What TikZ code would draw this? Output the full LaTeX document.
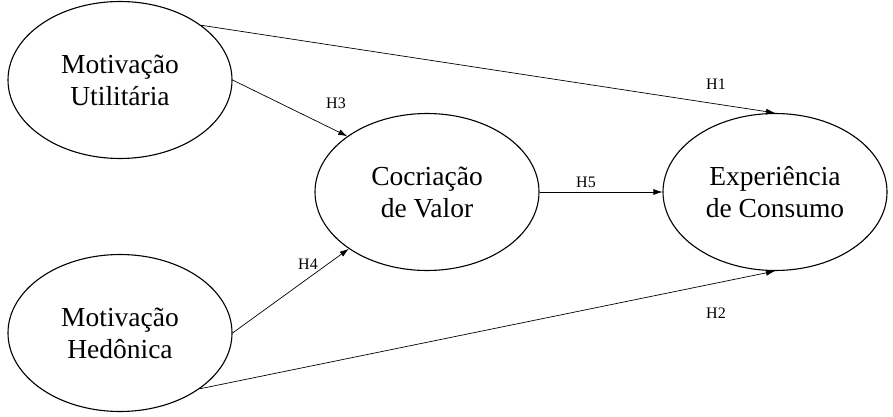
\documentclass[tikz,border=0pt]{standalone}
\usepackage{fontspec}
\setmainfont{Liberation Serif}
\usetikzlibrary{shapes.geometric, arrows.meta}

\tikzset{
  construct/.style={ellipse, draw, line width=1.1pt, minimum width=224pt,
    minimum height=157pt, align=center, font=\fontsize{27.5}{32}\selectfont},
  path/.style={draw, line width=0.7pt, -{Latex[length=9pt, width=6pt]}},
  hyp/.style={font=\fontsize{16}{18}\selectfont}
}

\begin{document}
\begin{tikzpicture}[x=1pt, y=-1pt]

    % Fix the page size
    \useasboundingbox (0, 0) rectangle (893, 417);

    % Draw constructs
    \node[construct] (mu) at (120, 80) {Motiva\c{c}\~ao\\Utilit\'aria};
    \node[construct] (mh) at (120, 333) {Motiva\c{c}\~ao\\Hed\^onica};
    \node[construct] (cv) at (427, 192) {Cocria\c{c}\~ao\\de Valor};
    \node[construct] (ec) at (775, 192) {Experi\^encia\\de Consumo};

    % Draw hypotheses
    \draw[path] (mu.34) -- (ec.north);
    \draw[path] (mu.east) -- (cv.145);
    \draw[path] (mh.east) -- (cv.216);
    \draw[path] (cv.east) -- (ec.west);
    \draw[path] (mh.325) -- (ec.south);

    % Draw hypothesis labels
    \foreach \n/\x/\y/\t in {h1/716/84/H1, h2/716/313/H2, h3/336/103/H3,
      h4/308/264/H4, h5/586/182/H5}{
      \node[hyp] (\n) at (\x, \y) {\t};
    }

  \end{tikzpicture}
\end{document}
